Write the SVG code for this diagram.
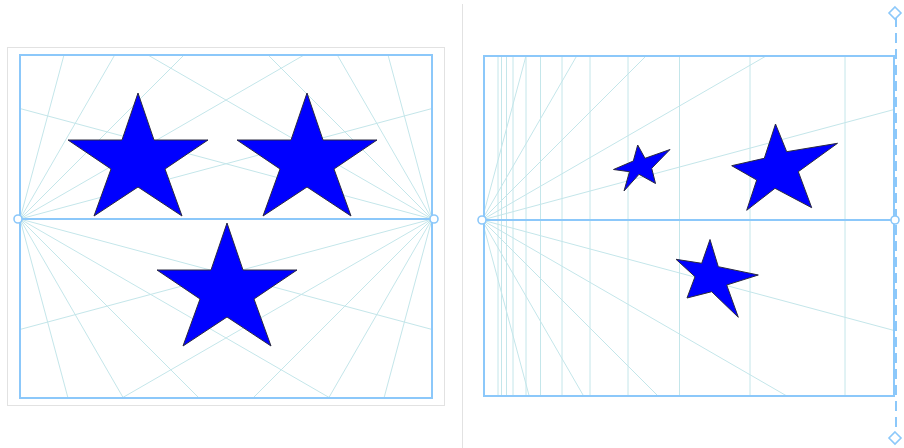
<svg xmlns="http://www.w3.org/2000/svg" width="904" height="448" viewBox="0 0 904 448">
<style>
.frame{fill:none;stroke:#8cc8fa;stroke-width:2}
.hz{stroke:#8cc8fa;stroke-width:2}
.guide{stroke:#c4e6ea;stroke-width:1;fill:none}
.star{fill:#0000ff;stroke:#2a2a40;stroke-width:1;stroke-linejoin:miter}
.handle{fill:#ffffff;stroke:#8cc8fa;stroke-width:1.6}
.panel{fill:#ffffff;stroke:#e2e2e2;stroke-width:1}
</style>
<defs>
<clipPath id="clipL"><rect x="20" y="55" width="412" height="343"/></clipPath>
<clipPath id="clipR"><rect x="484" y="56" width="410" height="340"/></clipPath>
<path id="starShape" d="M0,0 L16,47 L70,47 L27,76 L44,123 L0,94 L-44,123 L-27,76 L-70,47 L-16,47 Z"/>
</defs>
<rect width="904" height="448" fill="#ffffff"/>
<line x1="462.5" y1="4" x2="462.5" y2="448" stroke="#e2e2e2" stroke-width="1"/>

<g id="left-panel">
<rect class="panel" x="7.5" y="47.5" width="437" height="358"/>
<g id="left-guides" class="guide" clip-path="url(#clipL)">
<line x1="20" y1="219" x2="986" y2="-40"/>
<line x1="20" y1="219" x2="886" y2="-281"/>
<line x1="20" y1="219" x2="727" y2="-488"/>
<line x1="20" y1="219" x2="520" y2="-647"/>
<line x1="20" y1="219" x2="279" y2="-747"/>
<line x1="20" y1="219" x2="986" y2="478"/>
<line x1="20" y1="219" x2="886" y2="719"/>
<line x1="20" y1="219" x2="727" y2="926"/>
<line x1="20" y1="219" x2="520" y2="1085"/>
<line x1="20" y1="219" x2="279" y2="1185"/>
<line x1="432" y1="219" x2="-534" y2="-40"/>
<line x1="432" y1="219" x2="-434" y2="-281"/>
<line x1="432" y1="219" x2="-275" y2="-488"/>
<line x1="432" y1="219" x2="-68" y2="-647"/>
<line x1="432" y1="219" x2="173" y2="-747"/>
<line x1="432" y1="219" x2="-534" y2="478"/>
<line x1="432" y1="219" x2="-434" y2="719"/>
<line x1="432" y1="219" x2="-275" y2="926"/>
<line x1="432" y1="219" x2="-68" y2="1085"/>
<line x1="432" y1="219" x2="173" y2="1185"/>
</g>
<g id="left-stars">
<use href="#starShape" class="star" x="138" y="93"/>
<use href="#starShape" class="star" x="307" y="93"/>
<use href="#starShape" class="star" x="227" y="223"/>
</g>
<rect class="frame" x="20" y="55" width="412" height="343"/>
<line class="hz" x1="20" y1="219" x2="432" y2="219"/>
<circle class="handle" cx="18" cy="219" r="4"/>
<circle class="handle" cx="434" cy="219" r="4"/>
</g>

<g id="right-panel">
<g id="right-guides" class="guide" clip-path="url(#clipR)">
<line x1="482" y1="220" x2="1448" y2="-39"/>
<line x1="482" y1="220" x2="1348" y2="-280"/>
<line x1="482" y1="220" x2="1189" y2="-487"/>
<line x1="482" y1="220" x2="982" y2="-646"/>
<line x1="482" y1="220" x2="741" y2="-746"/>
<line x1="482" y1="220" x2="1448" y2="479"/>
<line x1="482" y1="220" x2="1348" y2="720"/>
<line x1="482" y1="220" x2="1189" y2="927"/>
<line x1="482" y1="220" x2="982" y2="1086"/>
<line x1="482" y1="220" x2="741" y2="1186"/>
<line x1="498" y1="56" x2="498" y2="396"/>
<line x1="501.5" y1="56" x2="501.5" y2="396"/>
<line x1="506.5" y1="56" x2="506.5" y2="396"/>
<line x1="513" y1="56" x2="513" y2="396"/>
<line x1="526" y1="56" x2="526" y2="396"/>
<line x1="540.5" y1="56" x2="540.5" y2="396"/>
<line x1="562" y1="56" x2="562" y2="396"/>
<line x1="590" y1="56" x2="590" y2="396"/>
<line x1="628" y1="56" x2="628" y2="396"/>
<line x1="679.5" y1="56" x2="679.5" y2="396"/>
<line x1="750" y1="56" x2="750" y2="396"/>
<line x1="845" y1="56" x2="845" y2="396"/>
</g>
<g id="right-stars">
<path id="starA" class="star" d="M637.7,145 L645,158.3 L670,149.5 L651.7,168.3 L655.5,183.5 L639,174.3 L624,191 L629.5,171.7 L613.5,169.5 L633.3,161 Z"/>
<path id="starB" class="star" d="M775.5,124 L786.7,151.7 L837.5,143.3 L798.3,171.7 L811.7,207.7 L775,188.3 L746.7,210.3 L756.7,180 L731.7,165.7 L764.3,158.3 Z"/>
<path id="starC" class="star" d="M710,239.5 L718.3,266.7 L758.3,275 L726.7,285 L738.3,317.3 L711.7,291.7 L687,298 L695,276.7 L676,259.3 L701.7,263.3 Z"/>
</g>
<rect class="frame" x="484" y="56" width="410" height="340"/>
<line class="hz" x1="484" y1="220" x2="894" y2="220"/>
<line x1="896" y1="17" x2="896" y2="434" stroke="#8cc8fa" stroke-width="2" stroke-dasharray="10 6"/>
<circle class="handle" cx="482" cy="220" r="4"/>
<circle class="handle" cx="895" cy="220" r="4"/>
<path class="handle" d="M895,7 L901,13 L895,19 L889,13 Z"/>
<path class="handle" d="M895,432 L901,438 L895,444 L889,438 Z"/>
</g>
</svg>
